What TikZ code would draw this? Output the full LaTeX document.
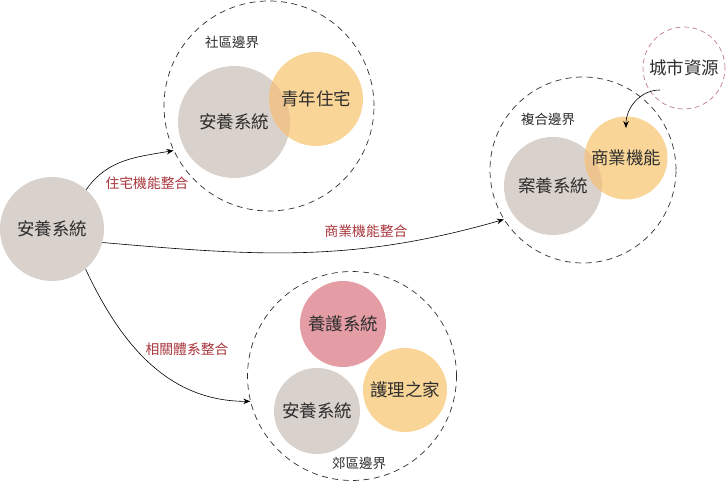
\documentclass[tikz,border=0pt]{standalone}
\usepackage{fontspec}
\setmainfont{Noto Sans CJK TC}
\usetikzlibrary{arrows.meta,calc}
\definecolor{grayc}{HTML}{D9D1CB}
\definecolor{orangec}{HTML}{F9D597}
\definecolor{overlapc}{HTML}{EDC38F}
\definecolor{pinkc}{HTML}{E59DA5}
\definecolor{redtxt}{HTML}{A8353B}
\definecolor{inkc}{HTML}{2E2E2E}
\definecolor{cityc}{HTML}{C27C88}
\tikzset{
  x=1pt,y=1pt,
  disc/.style={circle,inner sep=0pt,minimum size=#1},
  bound/.style={circle,inner sep=0pt,minimum size=#1,draw=inkc,line width=0.7pt,dash pattern=on 6pt off 4.5pt},
  maintxt/.style={font=\fontsize{17.5}{19}\selectfont,text=inkc},
  boundtxt/.style={font=\fontsize{13.5}{15}\selectfont,text=inkc},
  linktxt/.style={font=\fontsize{13.8}{15}\selectfont,text=redtxt},
  link/.style={draw=black,line width=0.6pt,-{Stealth[length=7pt,width=5.5pt]}},
}
\begin{document}
\begin{tikzpicture}
\useasboundingbox (0,0) rectangle (726,481);
% source
\node[disc=104pt,fill=grayc] (src) at (52,252) {};
\node[maintxt] (srct) at (src) {安養系統};
% community boundary
\node[bound=210pt] (comm) at (269,375) {};
\node[disc=112pt,fill=grayc] (cg) at (234,359) {};
\node[disc=94pt,fill=orangec] (co) at (316,382) {};
\begin{scope}
  \clip (316,382) circle (47);
  \fill[overlapc] (234,359) circle (56);
\end{scope}
\node[maintxt] (cgt) at (cg) {安養系統};
\node[maintxt] (cot) at (co) {青年住宅};
\node[boundtxt] (commt) at (232,439) {社區邊界};
% complex boundary
\node[bound=186pt] (cplx) at (583,311) {};
\node[disc=98pt,fill=grayc] (xg) at (553,295) {};
\node[disc=83pt,fill=orangec] (xo) at (626,323) {};
\begin{scope}
  \clip (626,323) circle (41.5);
  \fill[overlapc] (553,295) circle (49);
\end{scope}
\node[maintxt] (xgt) at (xg) {案養系統};
\node[maintxt] (xot) at (xo) {商業機能};
\node[boundtxt] (cplxt) at (548,362) {複合邊界};
% city resources
\node[disc=82pt,draw=cityc,line width=0.7pt,dash pattern=on 5pt off 3.5pt] (city) at (684,413) {};
\node[maintxt] (cityt) at (city) {城市資源};
\coordinate (cs) at ($(city)+(-24,-22)$);
\coordinate (ce) at ($(xo)+(0,30)$);
% suburb boundary
\node[bound=209pt] (sub) at (352,105) {};
\node[disc=86pt,fill=pinkc] (sp) at (343,157) {};
\node[disc=84pt,fill=orangec] (so) at (405,91) {};
\node[disc=86pt,fill=grayc] (sg) at (317,70) {};
\node[maintxt] (spt) at (sp) {養護系統};
\node[maintxt] (sot) at (so) {護理之家};
\node[maintxt] (sgt) at (sg) {安養系統};
\node[boundtxt] (subt) at (359,18) {郊區邊界};
% links
\draw[link] (src.49) to[out=55,in=190] (comm.205);
\draw[link] (src.-15) to[out=-5,in=196] (cplx.212);
\draw[link] (src.-50) to[out=-65,in=180] (sub.194);
\draw[link] (cs) to[out=180,in=90] (ce);
\node[linktxt] (l1) at (147,298) {住宅機能整合};
\node[linktxt] (l2) at (366,250) {商業機能整合};
\node[linktxt] (l3) at (187,132) {相關體系整合};
\end{tikzpicture}
\end{document}
